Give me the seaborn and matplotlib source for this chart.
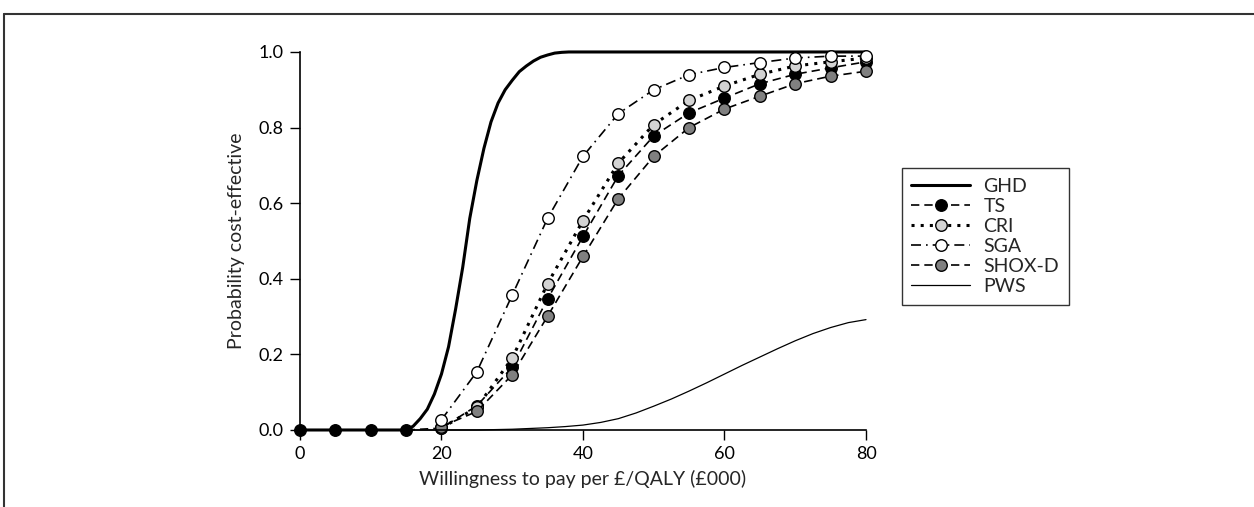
import numpy as np
import pandas as pd
import seaborn as sns
import matplotlib.pyplot as plt
from matplotlib.lines import Line2D

# willingness to pay (£000) at marker points
wtp = [0, 5, 10, 15, 20, 25, 30, 35, 40, 45, 50, 55, 60, 65, 70, 75, 80]
wtp_late = wtp[4:]

ts = [0, 0, 0, 0, 0.005, 0.064, 0.166, 0.347, 0.512, 0.673, 0.778, 0.839, 0.878, 0.916, 0.941, 0.958, 0.974]
cri = [0.005, 0.06, 0.19, 0.387, 0.554, 0.706, 0.808, 0.872, 0.91, 0.941, 0.963, 0.974, 0.984]
sga = [0.027, 0.154, 0.357, 0.56, 0.724, 0.837, 0.90, 0.94, 0.959, 0.972, 0.984, 0.989, 0.989]
shox = [0.009, 0.049, 0.146, 0.301, 0.459, 0.612, 0.724, 0.80, 0.849, 0.883, 0.916, 0.936, 0.949]

ghd_x = [0, 15, 16, 17, 18, 19, 20, 21, 22, 23, 24, 25, 26, 27, 28, 29, 30,
         31, 32, 33, 34, 35, 36, 37, 38, 80]
ghd = [0, 0, 0.01, 0.03, 0.055, 0.095, 0.148, 0.22, 0.32, 0.43, 0.56, 0.66, 0.745,
       0.815, 0.865, 0.90, 0.925, 0.948, 0.963, 0.976, 0.986, 0.992, 0.997, 0.999, 1.0, 1.0]

pws_x = [0, 25, 27.5, 30, 32.5, 35, 37.5, 40, 42.5, 45, 47.5, 50, 52.5, 55, 57.5,
         60, 62.5, 65, 67.5, 70, 72.5, 75, 77.5, 80]
pws = [0, 0, 0.001, 0.002, 0.004, 0.006, 0.009, 0.013, 0.02, 0.03, 0.045, 0.063,
       0.082, 0.103, 0.125, 0.148, 0.171, 0.193, 0.215, 0.236, 0.255, 0.271, 0.284, 0.292]

sns.set_style("ticks")
plt.rcParams['font.family'] = ['Lato', 'DejaVu Sans']

fig = plt.figure(figsize=(12.54, 5.07), dpi=100)
ax = fig.add_axes([0.2392, 0.1519, 0.4514, 0.7456])

mk = dict(marker='o', markersize=8.3, markeredgecolor='black', markeredgewidth=1, clip_on=False)

sns.lineplot(x=ghd_x, y=ghd, ax=ax, color='black', linewidth=2.2, label='GHD', clip_on=False)
sns.lineplot(x=pws_x, y=pws, ax=ax, color='black', linewidth=0.9, label='_pws', clip_on=False)
sns.lineplot(x=wtp, y=ts, ax=ax, color='black', linestyle=(0, (5, 3)), linewidth=1.2,
             markerfacecolor='black', label='TS', **mk)
sns.lineplot(x=wtp_late, y=cri, ax=ax, color='black', linestyle=(0, (1, 2)), linewidth=2.2,
             markerfacecolor='#d3d3d3', label='CRI', **mk)
sns.lineplot(x=wtp_late, y=shox, ax=ax, color='black', linestyle=(0, (5, 3)), linewidth=1.2,
             markerfacecolor='#808080', label='SHOX-D', **mk)
sns.lineplot(x=wtp_late, y=sga, ax=ax, color='black', linestyle=(0, (6, 3, 1, 3)), linewidth=1.2,
             markerfacecolor='white', label='SGA', **mk)

ax.set_xlim(0, 80)
ax.set_ylim(0, 1)
ax.set_xticks([0, 20, 40, 60, 80])
ax.set_yticks([0, 0.2, 0.4, 0.6, 0.8, 1.0])
ax.set_yticklabels(['0.0', '0.2', '0.4', '0.6', '0.8', '1.0'])
ax.tick_params(direction='out', length=7.5, width=1, labelsize=13, colors='black', pad=4)
sns.despine(ax=ax)
for s in ['left', 'bottom']:
    ax.spines[s].set_linewidth(1.2)
    ax.spines[s].set_color('black')
ax.set_xlabel('Willingness to pay per £/QALY (£000)', fontsize=14, labelpad=6)
ax.set_ylabel('Probability cost-effective', fontsize=14, labelpad=10)

handles, labels = ax.get_legend_handles_labels()
order = ['GHD', 'TS', 'CRI', 'SGA', 'SHOX-D']
h = [handles[labels.index(l)] for l in order]
pws_h = Line2D([], [], color='black', linewidth=0.9)
h.append(pws_h)
leg = ax.legend(h, order + ['PWS'], loc='upper left', bbox_to_anchor=(0.719, 0.669),
                bbox_transform=fig.transFigure, borderaxespad=0, frameon=True, fancybox=False,
                edgecolor='black', fontsize=14, handlelength=3.0, handletextpad=0.7,
                labelspacing=0.16, borderpad=0.5, numpoints=1)
leg.get_frame().set_linewidth(1)

# partial frame around the figure (top and left edges)
fig.add_artist(Line2D([0.003, 1.0], [0.972, 0.972], transform=fig.transFigure,
                      color='#333333', linewidth=1.5))
fig.add_artist(Line2D([0.003, 0.003], [0.0, 0.972], transform=fig.transFigure,
                      color='#333333', linewidth=1.5))

fig.savefig('out.png', dpi=100)
